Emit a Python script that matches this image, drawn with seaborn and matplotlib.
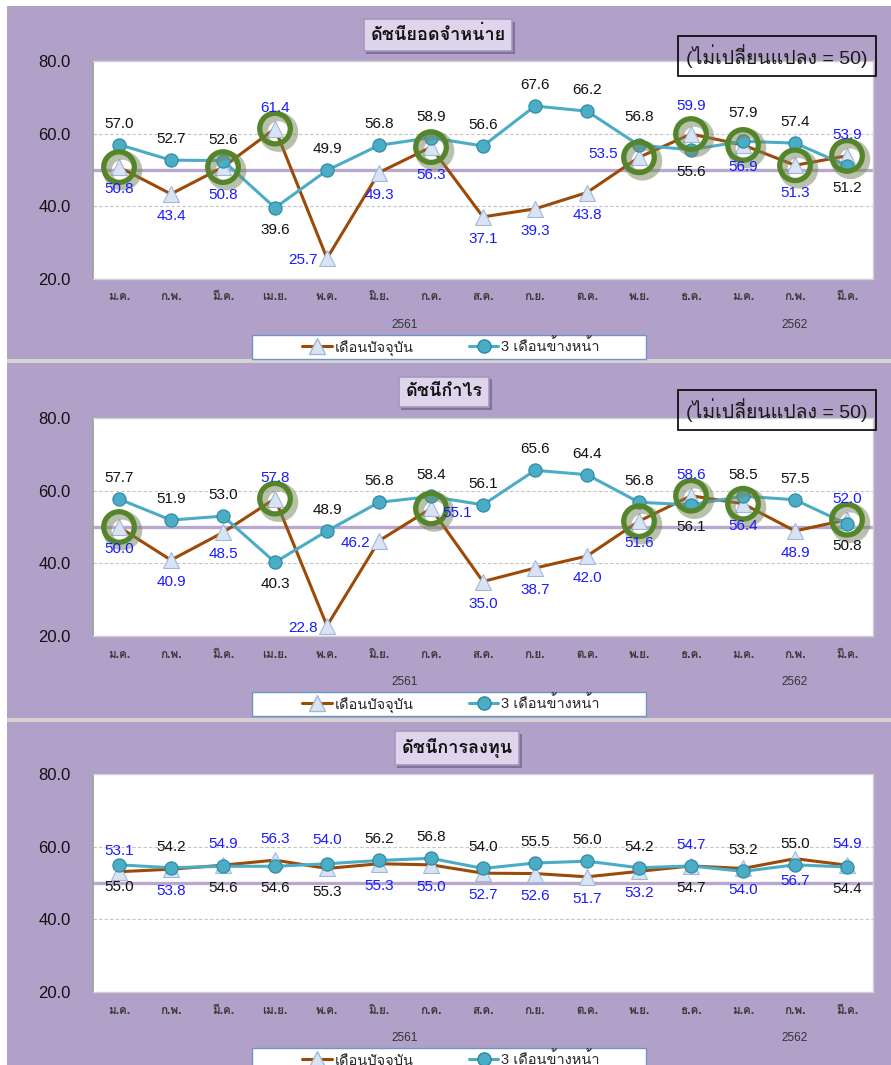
import numpy as np
import matplotlib
matplotlib.use("Agg")
import matplotlib.pyplot as plt
import matplotlib.patheffects as pe
from matplotlib import font_manager
from matplotlib.ft2font import FT2Font
from matplotlib.patches import Rectangle
from matplotlib.lines import Line2D
import seaborn as sns

# data
months = ["ม.ค.", "ก.พ.", "มี.ค.", "เม.ย.", "พ.ค.", "มิ.ย.", "ก.ค.", "ส.ค.",
          "ก.ย.", "ต.ค.", "พ.ย.", "ธ.ค.", "ม.ค.", "ก.พ.", "มี.ค."]
years = ["2561", "2562"]
series_names = ["เดือนปัจจุบัน", "3 เดือนข้างหน้า"]
titles = ["ดัชนียอดจำหน่าย", "ดัชนีกำไร", "ดัชนีการลงทุน"]
note = "(ไม่เปลี่ยนแปลง = 50)"

sales_now = [50.8, 43.4, 50.8, 61.4, 25.7, 49.3, 56.3, 37.1, 39.3, 43.8, 53.5, 59.9, 56.9, 51.3, 53.9]
sales_ahead = [57.0, 52.7, 52.6, 39.6, 49.9, 56.8, 58.9, 56.6, 67.6, 66.2, 56.8, 55.6, 57.9, 57.4, 51.2]
profit_now = [50.0, 40.9, 48.5, 57.8, 22.8, 46.2, 55.1, 35.0, 38.7, 42.0, 51.6, 58.6, 56.4, 48.9, 52.0]
profit_ahead = [57.7, 51.9, 53.0, 40.3, 48.9, 56.8, 58.4, 56.1, 65.6, 64.4, 56.8, 56.1, 58.5, 57.5, 50.8]
invest_now = [53.1, 53.8, 54.9, 56.3, 54.0, 55.3, 55.0, 52.7, 52.6, 51.7, 53.2, 54.7, 54.0, 56.7, 54.9]
invest_ahead = [55.0, 54.2, 54.6, 54.6, 55.3, 56.2, 56.8, 54.0, 55.5, 56.0, 54.2, 54.7, 53.2, 55.0, 54.4]

# where each value label sits relative to its point
sales_now_pos = list("bbBalbBbbbLAbBa")
sales_ahead_pos = list("aaabaaaaaaAbAab")
profit_now_pos = list("bbballrbbbbabba")
profit_ahead_pos = list("aaabaaaaaaabaab")
invest_now_pos = list("abaaAbbbbbbabba")
invest_ahead_pos = list("babbBaaaaaabaab")

OFF = {"a": (0, 21), "b": (0, -22), "A": (0, 28), "B": (0, -28),
       "l": (-24, -2), "L": (-36, 3), "r": (26, -5)}

PURPLE = "#B1A1C8"
BROWN = "#9C4A08"
CYAN = "#4BACC6"
BLUE = "#1A1AFF"
GREEN = "#55852A"


def find_thai_font():
    for f in font_manager.fontManager.ttflist:
        try:
            if 0x0E14 in FT2Font(f.fname).get_charmap():
                return f.name
        except Exception:
            continue
    return "DejaVu Sans"


sns.set_style("white")
thai = find_thai_font()
plt.rcParams["font.family"] = ["Liberation Sans", thai, "DejaVu Sans"]

W, H = 891, 1065
fig = plt.figure(figsize=(W / 100, H / 100), dpi=100, facecolor="white")


def fx(px):
    return px / W


def fy(py):
    return 1 - py / H


# panel backgrounds (pixel rows top/bottom)
for top, bot in [(6, 359), (363, 718), (721, 1065)]:
    fig.patches.append(Rectangle((fx(7), fy(bot)), fx(W - 7), (bot - top) / H,
                                 transform=fig.transFigure, fc=PURPLE, ec="none", zorder=-2))
for y in [359, 718]:
    fig.patches.append(Rectangle((fx(7), fy(y + 4)), fx(W - 7), 4 / H,
                                 transform=fig.transFigure, fc="#D4D4D4", ec="none", zorder=-2))


def draw_panel(ax_top, title, title_xy, now, ahead, now_pos, ahead_pos, rings, note_xy=None):
    ax_bot = ax_top + 218
    ax = fig.add_axes([fx(93), fy(ax_bot), fx(780), 218 / H])
    ax.set_zorder(2)
    ax.set_facecolor("white")
    x = np.arange(len(months))

    ax.axhline(50, color="#B8A8D0", lw=2.4, zorder=1)
    for g in [40, 60]:
        ax.axhline(g, color="#C4C4C4", lw=0.8, ls=(0, (3, 2)), zorder=1)

    sns.lineplot(x=x, y=now, ax=ax, color=BROWN, lw=2.2, marker="^", markersize=11.5,
                 markerfacecolor="#D8E4F3", markeredgecolor="#A2B8D8", markeredgewidth=0.8,
                 zorder=3)
    sns.lineplot(x=x, y=ahead, ax=ax, color=CYAN, lw=2.2, marker="o", markersize=9.5,
                 markerfacecolor=CYAN, markeredgecolor="#2C87A0", markeredgewidth=0.8,
                 zorder=4)

    if rings:
        idx = [i for i, v in enumerate(now) if v >= 50]
        ax.plot(idx, [now[i] for i in idx], ls="none", marker="o", markersize=22,
                markerfacecolor="none", markeredgecolor=GREEN, markeredgewidth=3.8, zorder=5,
                path_effects=[pe.SimpleLineShadow(offset=(2.5, -2.5), shadow_color="#75855A",
                                                  alpha=0.5, linewidth=6.5), pe.Normal()])

    for vals, pos, col in [(now, now_pos, BLUE), (ahead, ahead_pos, "#111111")]:
        for i, (v, p) in enumerate(zip(vals, pos)):
            ax.annotate(f"{v:.1f}", (i, v), xytext=OFF[p], textcoords="offset pixels",
                        ha="center", va="center", color=col, fontsize=11, zorder=6)

    ax.set_xlim(-0.5, len(months) - 0.5)
    ax.set_ylim(20, 80)
    ax.set_yticks([20, 40, 60, 80])
    ax.set_yticklabels([f"{t:.1f}" for t in [20, 40, 60, 80]], fontsize=12, color="#111111")
    ax.set_xticks(x)
    ax.set_xticklabels(months, fontsize=8.5, fontweight="bold", color="#3A3A3A")
    ax.tick_params(axis="x", length=0, pad=9)
    ax.tick_params(axis="y", length=5, width=1, color="#8C8C8C", pad=11)
    ax.set_xlabel("")
    ax.set_ylabel("")
    for s in ["top", "right", "bottom"]:
        ax.spines[s].set_color("#D0D0D0")
        ax.spines[s].set_linewidth(1)
    ax.spines["left"].set_color("#A0A0A0")
    ax.spines["left"].set_linewidth(1.3)

    tr = ax.get_xaxis_transform()
    ax.text(5.5, -46 / 218, years[0], transform=tr, ha="center", va="center",
            fontsize=8.5, color="#333333")
    ax.text(13, -46 / 218, years[1], transform=tr, ha="center", va="center",
            fontsize=8.5, color="#333333")

    # legend box under the chart
    leg_top = ax_bot + 56
    fig.patches.append(Rectangle((fx(252), fy(leg_top + 24)), fx(394), 24 / H,
                                 transform=fig.transFigure, fc="white", ec="#6F95C8",
                                 lw=1, zorder=1))
    handles = [
        Line2D([], [], color=BROWN, lw=2.2, marker="^", markersize=11.5,
               markerfacecolor="#D8E4F3", markeredgecolor="#A2B8D8"),
        Line2D([], [], color=CYAN, lw=2.2, marker="o", markersize=9.5,
               markerfacecolor=CYAN, markeredgecolor="#2C87A0"),
    ]
    ax.legend(handles, series_names, loc="center", ncol=2, frameon=False,
              bbox_to_anchor=(fx(451), fy(leg_top + 12)), bbox_transform=fig.transFigure,
              fontsize=10.5, handlelength=2.0, handletextpad=0.2, columnspacing=3.8)

    t = fig.text(fx(title_xy[0]), fy(title_xy[1]), title, ha="center", va="center",
                 fontsize=13, fontweight="bold", color="#111111",
                 bbox=dict(boxstyle="square,pad=0.38", fc="#DED5EC", ec="#A597BC", lw=1.2))
    t.get_bbox_patch().set_path_effects(
        [pe.withSimplePatchShadow(offset=(2, -2), shadow_rgbFace="#7C6D96", alpha=0.9)])
    if note_xy is not None:
        fig.text(fx(note_xy[0]), fy(note_xy[1]), note, ha="center", va="center",
                 fontsize=14, color="#1A1A1A", zorder=10,
                 bbox=dict(boxstyle="square,pad=0.4", fc="none", ec="black", lw=1.2))
    return ax


draw_panel(61, titles[0], (438, 35), sales_now, sales_ahead, sales_now_pos, sales_ahead_pos,
           True, (777, 56))
draw_panel(418, titles[1], (444, 392), profit_now, profit_ahead, profit_now_pos, profit_ahead_pos,
           True, (777, 410))
draw_panel(774, titles[2], (457, 748), invest_now, invest_ahead, invest_now_pos, invest_ahead_pos,
           False)

fig.savefig("out.png", dpi=100)
